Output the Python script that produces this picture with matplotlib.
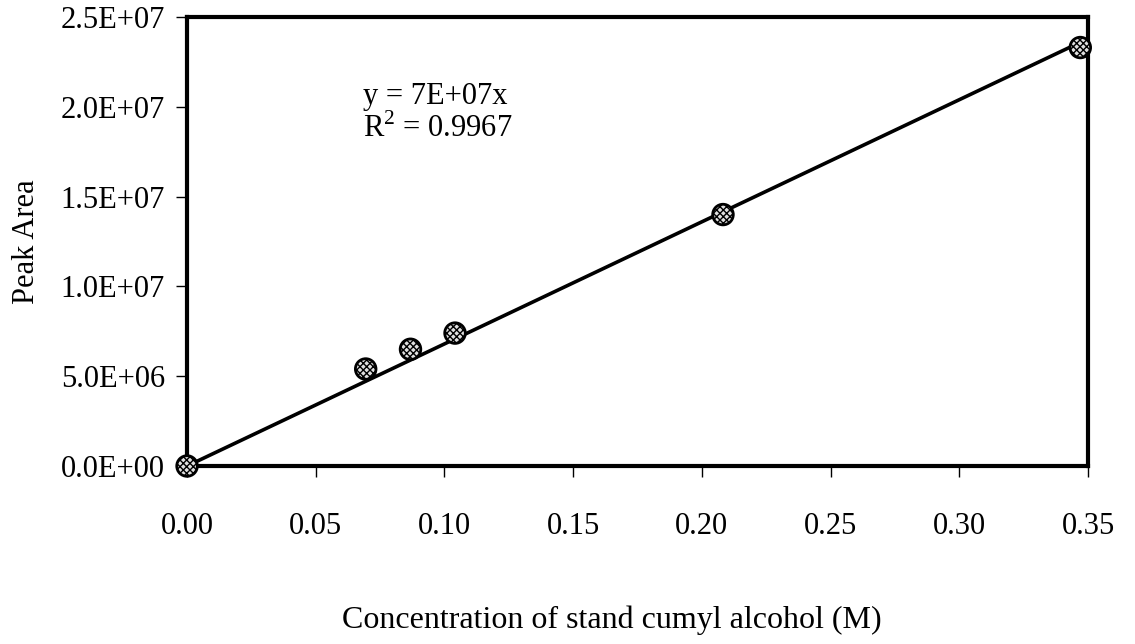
import numpy as np
import matplotlib
matplotlib.use("Agg")
import matplotlib.pyplot as plt
from matplotlib.ticker import FuncFormatter

plt.rcParams["font.family"] = ["Liberation Serif", "DejaVu Serif"]
plt.rcParams["mathtext.fontset"] = "custom"
plt.rcParams["mathtext.rm"] = "Liberation Serif"
plt.rcParams["hatch.linewidth"] = 1.0

# standard cumyl alcohol calibration
conc = [0.0, 0.0694, 0.0868, 0.1041, 0.2082, 0.347]
area = [0.0, 5.4e6, 6.5e6, 7.4e6, 1.40e7, 2.33e7]
xticks = [0.00, 0.05, 0.10, 0.15, 0.20, 0.25, 0.30, 0.35]
yticks = [0.0, 5.0e6, 1.0e7, 1.5e7, 2.0e7, 2.5e7]

x = np.array(conc)
y = np.array(area)
# least squares line forced through the origin
slope = np.sum(x * y) / np.sum(x * x)

fig = plt.figure(figsize=(11.35, 6.44), dpi=100)
ax = fig.add_axes([0.1648, 0.2764, 0.7938, 0.6972])

xfit = np.array([0.0, x.max()])
ax.plot(xfit, slope * xfit, color="black", lw=2.6, zorder=2)
ax.scatter(x, y, s=220, facecolor="#e0e0e0", edgecolor="black", linewidth=2.0,
           hatch="xxxxx", zorder=3, clip_on=False)

ax.set_xlim(0, 0.35)
ax.set_ylim(0, 2.5e7)
ax.set_xticks(xticks)
ax.set_yticks(yticks)
ax.xaxis.set_major_formatter(FuncFormatter(lambda v, p: f"{v:.2f}"))
ax.yaxis.set_major_formatter(FuncFormatter(
    lambda v, p: "0.0E+00" if v == 0 else "{:.1E}".format(v)))

for s in ax.spines.values():
    s.set_linewidth(3)
ax.tick_params(direction="out", length=8, width=1, labelsize=22, pad=8)
ax.tick_params(axis="x", pad=25)

ax.text(0.195, 0.822, "y = 7E+07x", transform=ax.transAxes, fontsize=22, va="center")
ax.text(0.195, 0.752, "R$^2$ = 0.9967", transform=ax.transAxes, fontsize=22, va="center")

ax.set_xlabel("Concentration of stand cumyl alcohol (M)", fontsize=23)
ax.xaxis.set_label_coords(0.472, -0.31)
ax.set_ylabel("Peak Area", fontsize=22, labelpad=14)

fig.savefig("out.png", dpi=100)
